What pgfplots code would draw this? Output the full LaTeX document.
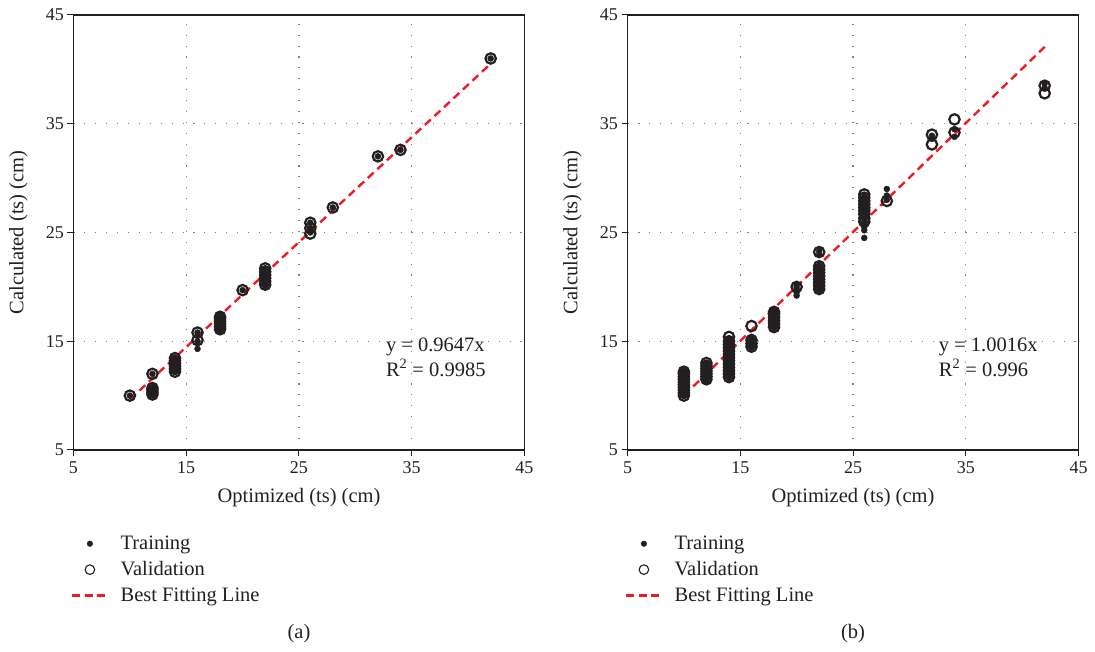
\documentclass[border=0pt]{standalone}
\usepackage{pgfplots}
\pgfplotsset{compat=1.18}
\usepackage{fontspec}
\setmainfont{Liberation Serif}

\definecolor{ink}{RGB}{35,31,32}
\definecolor{fitred}{RGB}{237,28,36}

\pgfplotsset{
  panel/.style={
    scale only axis, width=451pt, height=435pt,
    xmin=5, xmax=45, ymin=5, ymax=45,
    xtick={5,15,25,35,45}, ytick={5,15,25,35,45},
    xtick pos=bottom, ytick pos=left, tick align=outside,
    major tick length=6pt, tick style={ink, line width=1pt},
    axis line style={ink, line width=1.1pt},
    grid=major, major grid style={gray, line width=1.1pt, dash pattern=on 1.1pt off 9.8pt},
    ticklabel style={font=\fontsize{18}{21}\selectfont, text=ink},
    xticklabel style={yshift=-2pt},
    /pgf/number format/assume math mode=true,
    every axis x label/.style={at={(axis description cs:0.5,0)}, anchor=center, yshift=-48pt,
      font=\fontsize{20.5}{24}\selectfont, text=ink},
    every axis y label/.style={at={(axis description cs:0,0.5)}, anchor=center, xshift=-55pt, rotate=90,
      font=\fontsize{20.5}{24}\selectfont, text=ink},
    xlabel={Optimized (ts) (cm)}, ylabel={Calculated (ts) (cm)},
    legend cell align=left,
    legend style={at={(axis description cs:0,0)}, anchor=north west, yshift=-82pt, xshift=-5.5pt,
      draw=none, fill=none, font=\fontsize{20.5}{24}\selectfont, text=ink, row sep=6.5pt},
  },
  valid/.style={only marks, mark=o, mark size=5.2pt, ink, line width=2.2pt,
    legend image code/.code={\draw[ink, line width=1.1pt] (17.5pt,0pt) circle (4.8pt); \path (45pt,0pt);}},
  train/.style={only marks, mark=*, mark size=3pt, ink,
    legend image code/.code={\fill[ink] (17.5pt,0pt) circle (2.8pt); \path (45pt,0pt);}},
  fit/.style={fitred, line width=2.4pt, dash pattern=on 8pt off 5pt,
    legend image code/.code={\draw[fitred, line width=2.4pt, dash pattern=on 8pt off 4.5pt] (0pt,0pt) -- (37pt,0pt); \path (45pt,0pt);}},
}

\begin{document}
\begin{tikzpicture}
\useasboundingbox (-73.5pt,-202pt) rectangle (1021.5pt,450pt);

% (a)
\begin{axis}[panel, name=pa, at={(0pt,0pt)}, anchor=south west]
\addlegendimage{train}\addlegendentry{Training}
\addlegendimage{valid}\addlegendentry{Validation}
\addlegendimage{fit}\addlegendentry{Best Fitting Line}
\addplot[valid, forget plot] coordinates {
  (10,10.0)
  (12,12.0) (12,10.1) (12,10.3) (12,10.5) (12,10.7)
  (14,12.2) (14,12.45) (14,12.7) (14,12.95) (14,13.2) (14,13.45)
  (16,15.1) (16,15.8)
  (18,16.1) (18,16.35) (18,16.6) (18,16.85) (18,17.1) (18,17.25)
  (20,19.7)
  (22,20.2) (22,20.5) (22,20.8) (22,21.1) (22,21.4) (22,21.7)
  (26,24.9) (26,25.4) (26,25.9)
  (28,27.3)
  (32,32.0)
  (34,32.6)
  (42,41.0)
};
\addplot[train, forget plot] coordinates {
  (10,10.0)
  (12,10.1) (12,10.2) (12,10.3) (12,10.4) (12,10.5) (12,10.6) (12,10.7) (12,12.0)
  (14,12.2) (14,12.35) (14,12.5) (14,12.65) (14,12.8) (14,12.95) (14,13.1) (14,13.25) (14,13.4) (14,13.5)
  (16,14.3) (16,15.0) (16,15.5) (16,15.8)
  (18,16.0) (18,16.2) (18,16.4) (18,16.6) (18,16.8) (18,17.0) (18,17.2)
  (20,19.7)
  (22,20.1) (22,20.4) (22,20.7) (22,21.0) (22,21.3) (22,21.5) (22,21.7)
  (26,25.0) (26,25.4) (26,25.9)
  (28,27.3)
  (32,32.0)
  (34,32.6)
  (42,41.0)
};
\addplot[fit, forget plot] coordinates {(10,9.647) (42,40.517)};
\node[anchor=north west, align=left, font=\fontsize{20.5}{24.5}\selectfont, text=ink, inner sep=0pt]
  at (axis cs:32.7,15.3) {y = 0.9647x\\R\textsuperscript{2} = 0.9985};
\end{axis}
\node[font=\fontsize{20.5}{24}\selectfont, text=ink] at ([yshift=-184pt]pa.south) {(a)};

% (b)
\begin{axis}[panel, name=pb, at={(554pt,0pt)}, anchor=south west]
\addlegendimage{train}\addlegendentry{Training}
\addlegendimage{valid}\addlegendentry{Validation}
\addlegendimage{fit}\addlegendentry{Best Fitting Line}
\addplot[valid, forget plot] coordinates {
  (10,10.0) (10,10.25) (10,10.5) (10,10.75) (10,11.0) (10,11.25) (10,11.5) (10,11.75) (10,12.0) (10,12.2)
  (12,11.5) (12,11.75) (12,12.0) (12,12.25) (12,12.5) (12,12.75) (12,13.0)
  (14,11.7) (14,12.0) (14,12.3) (14,12.6) (14,12.9) (14,13.2) (14,13.5) (14,13.8) (14,14.1) (14,14.4) (14,14.7) (14,15.0) (14,15.4)
  (16,14.5) (16,14.8) (16,15.1) (16,16.4)
  (18,16.3) (18,16.6) (18,16.9) (18,17.2) (18,17.5) (18,17.7)
  (20,20.0)
  (22,19.8) (22,20.1) (22,20.4) (22,20.7) (22,21.0) (22,21.3) (22,21.6) (22,21.9) (22,23.2)
  (26,26.0) (26,26.3) (26,26.7) (26,27.0) (26,27.3) (26,27.6) (26,27.9) (26,28.2) (26,28.5)
  (28,27.9)
  (32,33.1) (32,34.0)
  (34,34.2) (34,35.4)
  (42,37.8) (42,38.5)
};
\addplot[train, forget plot] coordinates {
  (10,10.0) (10,10.2) (10,10.4) (10,10.6) (10,10.8) (10,11.0) (10,11.2) (10,11.4) (10,11.6) (10,11.8) (10,12.0) (10,12.2)
  (12,11.4) (12,11.6) (12,11.8) (12,12.0) (12,12.2) (12,12.4) (12,12.6) (12,12.8) (12,13.0)
  (14,11.6) (14,11.9) (14,12.2) (14,12.5) (14,12.8) (14,13.1) (14,13.4) (14,13.7) (14,14.0) (14,14.3) (14,14.6) (14,14.9) (14,15.2)
  (16,14.4) (16,14.6) (16,14.8) (16,15.0) (16,15.2) (16,15.4)
  (18,16.2) (18,16.4) (18,16.6) (18,16.8) (18,17.0) (18,17.2) (18,17.4) (18,17.6) (18,17.8)
  (20,19.2) (20,19.5) (20,19.8) (20,20.0) (20,20.2)
  (22,19.6) (22,19.9) (22,20.2) (22,20.5) (22,20.8) (22,21.1) (22,21.4) (22,21.7) (22,22.0) (22,23.0) (22,23.3)
  (26,24.5) (26,25.2) (26,25.5) (26,25.8) (26,26.2) (26,26.5) (26,26.8) (26,27.2) (26,27.6) (26,28.0) (26,28.3)
  (28,28.0) (28,28.4) (28,29.0)
  (32,33.6) (32,33.9)
  (34,33.8) (34,34.5)
  (42,38.3) (42,38.7)
};
\addplot[fit, forget plot] coordinates {(10,10.016) (42,42.067)};
\node[anchor=north west, align=left, font=\fontsize{20.5}{24.5}\selectfont, text=ink, inner sep=0pt]
  at (axis cs:32.6,15.3) {y = 1.0016x\\R\textsuperscript{2} = 0.996};
\end{axis}
\node[font=\fontsize{20.5}{24}\selectfont, text=ink] at ([yshift=-184pt]pb.south) {(b)};
\end{tikzpicture}
\end{document}
